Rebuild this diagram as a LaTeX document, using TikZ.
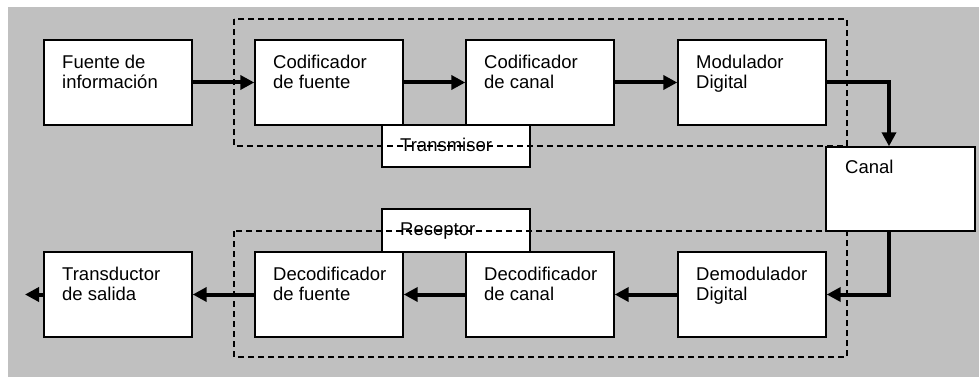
\documentclass[tikz,border=0pt]{standalone}
\usepackage{fontspec}
\setmainfont{Liberation Sans}
\usepackage{xcolor}
\usepackage{tikz}
\usetikzlibrary{arrows.meta}
\definecolor{fondo}{HTML}{C0C0C0}

\begin{document}
\begin{tikzpicture}
[x=1pt, y=-1pt,
 blk/.style={rectangle,draw,fill=white,line width=1.4pt,minimum width=148pt,minimum height=85pt,inner sep=0pt},
 txt/.style={anchor=north west,inner sep=0pt,align=left,font=\fontsize{18.5}{20.5}\selectfont},
 etq/.style={rectangle,draw,fill=white,line width=1.4pt,minimum width=148pt,inner sep=0pt},
 grupo/.style={line width=1.4pt,dash pattern=on 6pt off 4pt},
 flecha/.style={line width=4pt,-{Triangle[length=14pt,width=14pt]}}];
\useasboundingbox (0,0) rectangle (979,377);
\fill[fondo] (8,7) rectangle (979,377);

% cajas de las etiquetas, bajo las lineas punteadas
\node[etq,minimum height=42pt] (tx) at (456,146) {};
\node[etq,minimum height=43pt] (rx) at (456,230.5) {};
\draw[grupo] (234,19) rectangle (847,146);
\draw[grupo] (234,231) rectangle (847,357);
\node[txt,anchor=base west] (txt-tx) at (400,151) {Transmisor};
\node[txt,anchor=base west] (txt-rx) at (400,235) {Receptor};

% fila de arriba
\node[blk] (fuente) at (118,82.5) {};
\node[blk] (codf) at (329,82.5) {};
\node[blk] (codc) at (540,82.5) {};
\node[blk] (mod) at (752,82.5) {};
\node[txt] (txt-fuente) at (62,54.5) {Fuente de\\información};
\node[txt] (txt-codf) at (273,54.5) {Codificador\\de fuente};
\node[txt] (txt-codc) at (484,54.5) {Codificador\\de canal};
\node[txt] (txt-mod) at (696,54.5) {Modulador\\Digital};

% canal
\node[blk,minimum width=149pt,minimum height=84pt] (canal) at (900.5,189) {};
\node[txt] (txt-canal) at (845,159.5) {Canal};

% fila de abajo
\node[blk] (trans) at (118,294.5) {};
\node[blk] (decf) at (329,294.5) {};
\node[blk] (decc) at (540,294.5) {};
\node[blk] (demod) at (752,294.5) {};
\node[txt] (txt-trans) at (62,266.5) {Transductor\\de salida};
\node[txt] (txt-decf) at (273,266.5) {Decodificador\\de fuente};
\node[txt] (txt-decc) at (484,266.5) {Decodificador\\de canal};
\node[txt] (txt-demod) at (696,266.5) {Demodulador\\Digital};
\coordinate (salida) at (25,294.5);

\draw[flecha] (fuente) -- (codf);
\draw[flecha] (codf) -- (codc);
\draw[flecha] (codc) -- (mod);
\draw[flecha] (mod.east) -| ([xshift=-11.5pt]canal.north);
\draw[flecha] ([xshift=-11.5pt]canal.south) |- (demod.east);
\draw[flecha] (demod) -- (decc);
\draw[flecha] (decc) -- (decf);
\draw[flecha] (decf) -- (trans);
\draw[flecha] (trans) -- (salida);
\end{tikzpicture}
\end{document}
